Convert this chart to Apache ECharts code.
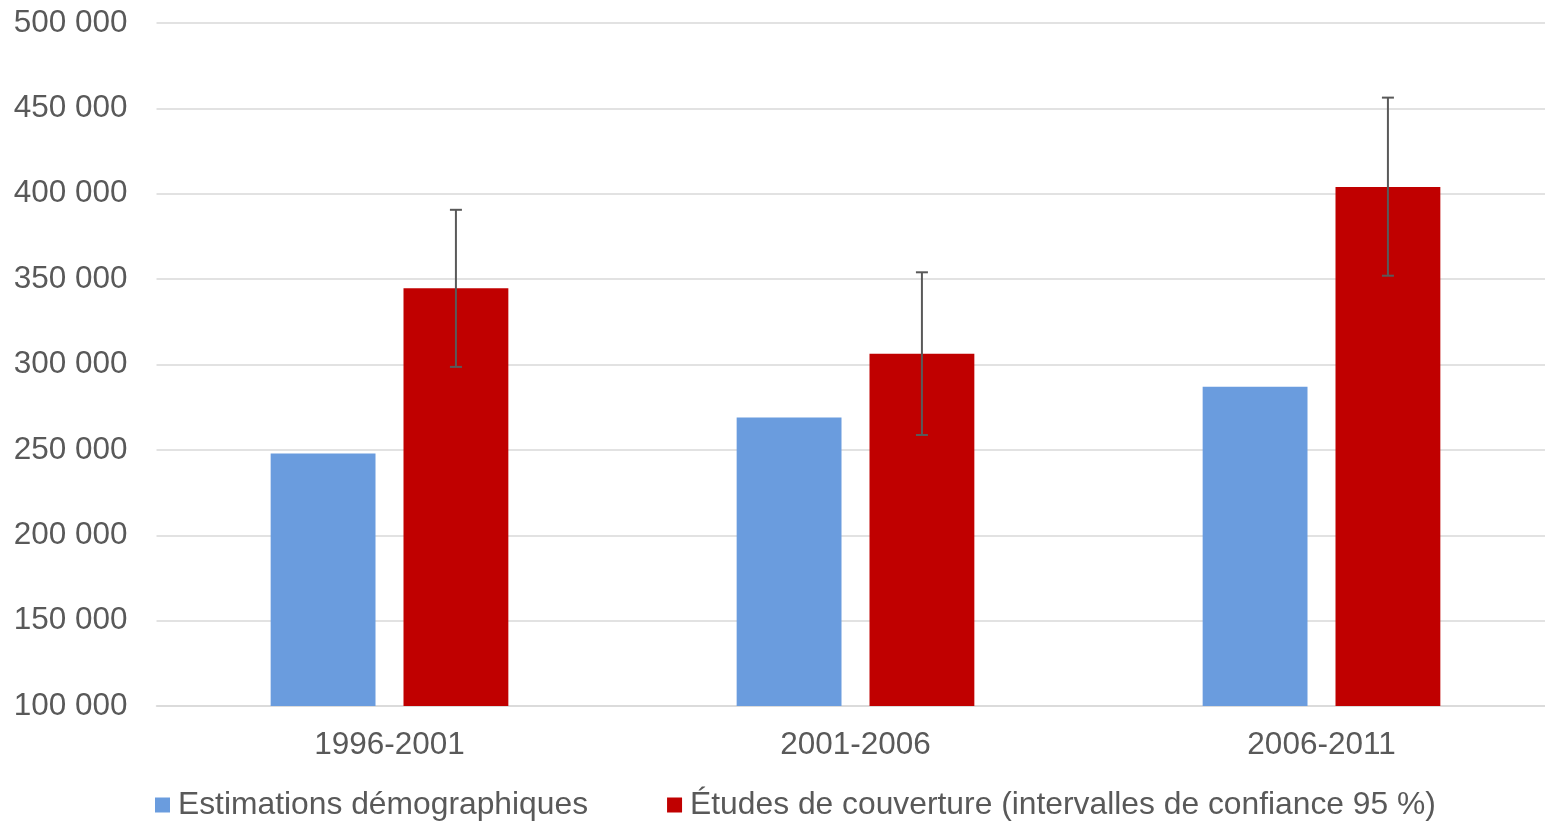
<!DOCTYPE html>
<html>
<head>
<meta charset="utf-8">
<script src="https://cdn.jsdelivr.net/npm/echarts@6/dist/echarts.min.js"></script>
<style>
html,body{margin:0;padding:0;background:#fff;overflow:hidden;width:1545px;height:822px;}
#c{width:1555px;height:822px;}
</style>
</head>
<body>
<div id="c"></div>
<script>
var categories = ['1996-2001', '2001-2006', '2006-2011'];
var seriesNames = ['Estimations démographiques', 'Études de couverture (intervalles de confiance 95 %)'];
var estimations = [247900, 268900, 286900];
var etudes = [344600, 306300, 403900];
var errLow = [298600, 258700, 352000];
var errHigh = [390600, 354000, 456300];
var yTicks = [100000, 150000, 200000, 250000, 300000, 350000, 400000, 450000, 500000];

var BAR_W = 0.225;   // fraction of band
var BAR_GAP = 0.267; // fraction of bar width

function fmt(v) {
  return String(v).replace(/\B(?=(\d{3})+(?!\d))/g, ' ');
}

var errData = categories.map(function (c, i) { return [i, errLow[i], errHigh[i]]; });

var chart = echarts.init(document.getElementById('c'));
chart.setOption({
  animation: false,
  backgroundColor: '#fff',
  textStyle: { fontFamily: 'Liberation Sans, Arial, sans-serif' },
  grid: { left: 156.5, right: 0.5, top: 23, bottom: 116, containLabel: false },
  legend: {
    data: seriesNames,
    left: 150,
    top: 784,
    itemWidth: 15,
    itemHeight: 15,
    itemGap: 79,
    icon: 'rect',
    textStyle: { fontSize: 31.8, color: '#595959', fontFamily: 'Liberation Sans, Arial, sans-serif', padding: [0, 0, 0, 3] }
  },
  xAxis: {
    type: 'category',
    data: categories,
    axisLine: { lineStyle: { color: '#d9d9d9', width: 1.5 } },
    axisTick: { show: false },
    axisLabel: { fontSize: 31.5, color: '#595959', margin: 23 },
    splitLine: { show: false }
  },
  yAxis: {
    type: 'value',
    min: yTicks[0],
    max: yTicks[yTicks.length - 1],
    interval: 50000,
    axisLine: { show: false },
    axisTick: { show: false },
    axisLabel: { fontSize: 31.5, color: '#595959', margin: 29, formatter: function (v) { return fmt(v); } },
    splitLine: { lineStyle: { color: '#d9d9d9', width: 1.5 } }
  },
  series: [
    {
      name: seriesNames[0],
      type: 'bar',
      data: estimations,
      barWidth: (BAR_W * 100) + '%',
      barGap: (BAR_GAP * 100) + '%',
      itemStyle: { color: '#6A9CDE' }
    },
    {
      name: seriesNames[1],
      type: 'bar',
      data: etudes,
      barWidth: (BAR_W * 100) + '%',
      barGap: (BAR_GAP * 100) + '%',
      itemStyle: { color: '#C00000' }
    },
    {
      type: 'custom',
      name: 'err',
      z: 10,
      data: errData,
      renderItem: function (params, api) {
        var idx = api.value(0);
        var lo = api.coord([idx, api.value(1)]);
        var hi = api.coord([idx, api.value(2)]);
        var band = api.size([1, 0])[0];
        var off = band * BAR_W * (1 + BAR_GAP) / 2;
        var x = lo[0] + off;
        var cap = 6;
        var st = { stroke: '#595959', lineWidth: 2 };
        return {
          type: 'group',
          children: [
            { type: 'line', shape: { x1: x, y1: lo[1], x2: x, y2: hi[1] }, style: st },
            { type: 'line', shape: { x1: x - cap, y1: lo[1], x2: x + cap, y2: lo[1] }, style: st },
            { type: 'line', shape: { x1: x - cap, y1: hi[1], x2: x + cap, y2: hi[1] }, style: st }
          ]
        };
      }
    }
  ]
});
</script>
</body>
</html>
